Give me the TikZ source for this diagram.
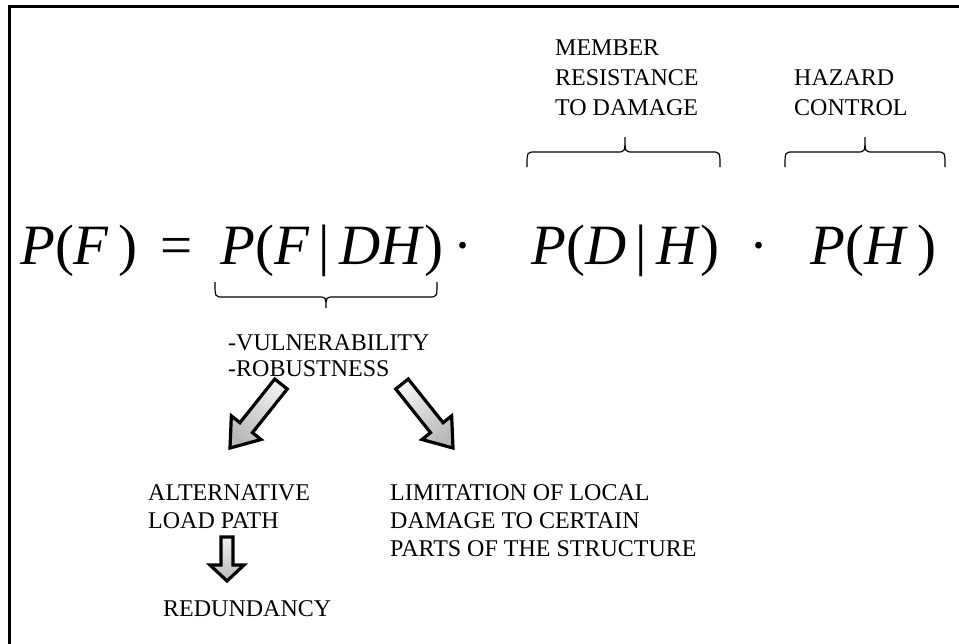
\documentclass[tikz,border=0pt]{standalone}
\usepackage{fontspec}
\setmainfont{Liberation Serif}
\usetikzlibrary{calc}
\definecolor{lav}{RGB}{196,198,248}
\tikzset{
  lbl/.style={anchor=base west, inner sep=0pt, font=\fontsize{24}{30}\selectfont},
  fml/.style={anchor=base west, inner sep=0pt, font=\fontsize{57}{57}\selectfont},
  brace/.style={line width=1.2pt},
  blockarrow/.style={draw=black, line width=3.2pt, line join=miter, top color=gray!12, middle color=lav, bottom color=gray!55},
  frame/.style={line width=3pt}
}
\newcommand\blkarrow[7]{%
  \coordinate (#1-hb) at ($(#3)!#6!(#2)$);
  \shadedraw[blockarrow, shading angle=#7]
    ($(#2)!#4!90:(#3)$) -- ($(#1-hb)!#4!90:(#3)$) -- ($(#1-hb)!#5!90:(#3)$) -- (#3)
    -- ($(#1-hb)!#5!-90:(#3)$) -- ($(#1-hb)!#4!-90:(#3)$) -- ($(#2)!#4!-90:(#3)$) -- cycle;
}
\begin{document}
\begin{tikzpicture}[x=1pt,y=-1pt]
\useasboundingbox (0,0) rectangle (959,643);
% frame
\coordinate (fbl) at (9,645);
\coordinate (ftl) at (9,6);
\coordinate (ftr) at (961,6);
\draw[frame] (fbl) -- (ftl) -- (ftr);

% top labels
\node[lbl] (m1) at (555,55) {MEMBER};
\node[lbl] (m2) at (555,85) {RESISTANCE};
\node[lbl] (m3) at (555,115) {TO DAMAGE};
\node[lbl] (h1) at (794,85) {HAZARD};
\node[lbl] (h2) at (794,115) {CONTROL};

% top braces
\coordinate (b1l) at (527,167); \coordinate (b1m) at (625,137); \coordinate (b1r) at (720,167);
\draw[brace] (b1l) .. controls (527,152) .. (535,152) -- (617,152) .. controls (625,152) .. (b1m)
  .. controls (625,152) .. (633,152) -- (712,152) .. controls (720,152) .. (b1r);
\coordinate (b2l) at (785,167); \coordinate (b2m) at (865,137); \coordinate (b2r) at (945,167);
\draw[brace] (b2l) .. controls (785,152) .. (793,152) -- (857,152) .. controls (865,152) .. (b2m)
  .. controls (865,152) .. (873,152) -- (937,152) .. controls (945,152) .. (b2r);

% formula
\node[fml] (pf) at (20,264) {\textit{P}(\textit{F}\,)};
\node[fml] (eq) at (160,264) {=};
\node[fml] (pfdh) at (220,264) {\textit{P}(\textit{F}\,|\,\textit{DH})};
\node[fml] (dot1) at (453,264) {·};
\node[fml] (pdh) at (531,264) {\textit{P}(\textit{D}\,|\,\textit{H})};
\node[fml] (dot2) at (749,264) {·};
\node[fml] (ph) at (810,264) {\textit{P}(\textit{H}\,)};

% bottom brace
\coordinate (b3l) at (215,282); \coordinate (b3m) at (326,308); \coordinate (b3r) at (437,282);
\draw[brace] (b3l) .. controls (215,297) .. (223,297) -- (318,297) .. controls (326,297) .. (b3m)
  .. controls (326,297) .. (334,297) -- (429,297) .. controls (437,297) .. (b3r);

\node[lbl] (v1) at (228,350) {-VULNERABILITY};
\node[lbl] (v2) at (228,376) {-ROBUSTNESS};

% arrows
\coordinate (a1t) at (281,384); \coordinate (a1h) at (230,448);
\blkarrow{a1}{a1t}{a1h}{8pt}{19pt}{26pt}{-38}
\coordinate (a2t) at (402,384); \coordinate (a2h) at (453,448);
\blkarrow{a2}{a2t}{a2h}{8pt}{19pt}{26pt}{38}

\node[lbl] (al1) at (148,500) {ALTERNATIVE};
\node[lbl] (al2) at (148,528) {LOAD PATH};
\node[lbl] (li1) at (390,500) {LIMITATION OF LOCAL};
\node[lbl] (li2) at (390,528) {DAMAGE TO CERTAIN};
\node[lbl] (li3) at (390,556) {PARTS OF THE STRUCTURE};

\coordinate (a3t) at (227,537); \coordinate (a3h) at (227,581);
\blkarrow{a3}{a3t}{a3h}{6pt}{17pt}{16pt}{0}

\node[lbl] (red) at (163,616) {REDUNDANCY};
\end{tikzpicture}
\end{document}
